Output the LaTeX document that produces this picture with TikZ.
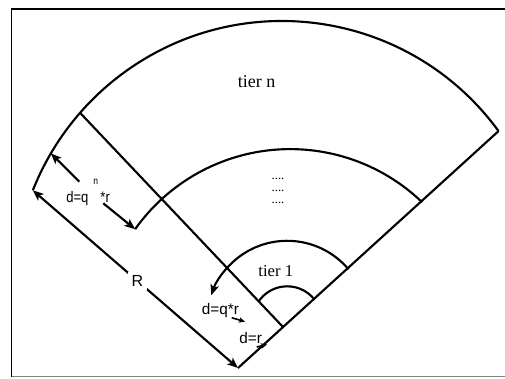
\documentclass[tikz,border=0pt]{standalone}
\usepackage{fontspec}
\setmainfont{Liberation Serif}
\newfontfamily\arialf{Liberation Sans}
\usetikzlibrary{arrows.meta,calc}
\begin{document}
\begin{tikzpicture}[x=0.75pt,y=0.75pt,
  ln/.style={line width=1.6pt},
  tipbig/.style={-{Stealth[length=8pt,width=6.5pt,inset=2pt]}},
  tipboth/.style={{Stealth[length=8pt,width=6.5pt,inset=2pt]}-{Stealth[length=8pt,width=6.5pt,inset=2pt]}},
  tipsmall/.style={line width=1.2pt,-{Stealth[length=4.5pt,width=4pt,inset=1pt]}},
  sanslab/.style={inner sep=0pt,font=\arialf\fontsize{11.5}{13}\selectfont},
  tierlab/.style={inner sep=0pt,font=\fontsize{13.5}{16}\selectfont},
  dotlab/.style={inner sep=0pt,font=\fontsize{9.5}{11}\selectfont}]
\useasboundingbox (0,0) rectangle (505,378);
\clip (0,0) rectangle (505,378);
% frame
\draw[line width=1.4pt] (520,369) -- (11.5,369) -- (11.5,1.5);
\draw[gray,line width=1.1pt] (11.5,1.5) -- (520,1.5);
% centres
\coordinate (O1) at (282,89);
\coordinate (O2) at (290.2,38.6);
\coordinate (O3) at (287.2,57);
\coordinate (A) at (238,10);
\coordinate (C0) at (283,51);
% arc ends
\coordinate (ORt) at ($(O1)+(36.1:268)$);
\coordinate (OLt) at ($(O1)+(158.4:268)$);
\coordinate (L1) at ($(O1)+(138.9:268)$);
\coordinate (MRt) at ($(O2)+(46.1:190.3)$);
\coordinate (MLt) at ($(O2)+(144.6:190.3)$);
\coordinate (TRt) at ($(O3)+(40.1:80.2)$);
\coordinate (IRt) at ($(O3)+(38:34.7)$);
% arrows ends
\coordinate (Q1s) at (79.3,196.3);
\coordinate (Q1t) at ($(O1)+(149.6:268)$);
\coordinate (Q2s) at (103.3,174.7);
\coordinate (S1s) at (231.7,60.3);
\coordinate (S1t) at (245,56.3);
\coordinate (S2s) at (256.7,31);
\coordinate (S2t) at (267,33.5);
% arcs
\draw[ln] (ORt) arc[start angle=36.1,end angle=158.4,radius=201pt];
\draw[ln] (MRt) arc[start angle=46.1,end angle=144.6,radius=142.7pt];
\draw[ln,tipbig] (TRt) arc[start angle=40.1,end angle=161.2,radius=60.15pt];
\draw[ln] (IRt) arc[start angle=38,end angle=145.4,radius=26pt];
% straight lines
\draw[ln] (A) -- (ORt);
\draw[ln] (L1) -- (C0);
\draw[ln,tipboth] (OLt) -- node[pos=0.51,fill=white,inner sep=2.5pt,font=\arialf\fontsize{12}{13}\selectfont] (lblR) {R} (A);
% dimension arrows
\draw[ln,tipbig] (Q1s) -- (Q1t);
\draw[ln,tipbig] (Q2s) -- (MLt);
\draw[tipsmall] (S1s) -- (S1t);
\draw[tipsmall] (S2s) -- (S2t);
% labels
\node[sanslab,anchor=base west] (dqn) at (66,175) {\scalebox{0.85}[1]{d=q\hspace{4.5pt}\raisebox{13.5pt}{\fontsize{7.5}{7.5}\selectfont n}\hspace{2pt}*r}};
\node[sanslab,anchor=base west] (dq) at (201.7,63.5) {d=q*r};
\node[sanslab,anchor=base west] (dr) at (239,35) {d=r};
\node[tierlab,anchor=base] (tn) at (256.5,290) {tier n};
\node[tierlab,font=\fontsize{12.5}{15}\selectfont,anchor=base] (t1) at (275.8,101.3) {tier 1};
\node[dotlab,anchor=base] (d1) at (278,198.3) {....};
\node[dotlab,anchor=base] (d2) at (278,186) {....};
\node[dotlab,anchor=base] (d3) at (278,174.3) {....};
\end{tikzpicture}
\end{document}
